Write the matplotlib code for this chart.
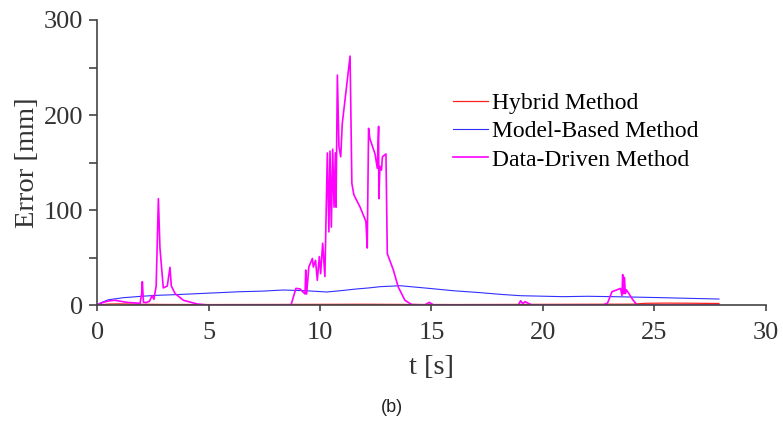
import numpy as np
import matplotlib
matplotlib.use('Agg')
import matplotlib.pyplot as plt
from matplotlib.ticker import MultipleLocator

# Erro ao longo do tempo para os três métodos
t_hibrido = [0.0, 0.5, 1.0, 2.0, 3.0, 5.0, 8.0, 10.0, 12.0, 14.0, 16.0, 18.0,
             20.0, 22.0, 24.0, 24.6, 25.5, 26.5, 27.9]
e_hibrido = [0.0, 1.0, 1.2, 0.8, 0.6, 0.5, 0.6, 0.7, 0.8, 0.6, 0.5, 0.6,
             0.7, 0.8, 0.9, 1.8, 2.0, 1.9, 1.6]

t_modelo = [0.0, 0.13, 0.5, 1.18, 2.0, 2.68, 3.5, 4.17, 5.3, 6.4, 7.4, 8.35,
            9.4, 10.3, 10.9, 11.6, 12.2, 12.7, 13.6, 14.9, 16.0, 17.2, 18.1,
            19.0, 20.9, 22.0, 23.1, 24.2, 25.4, 26.6, 27.9]
e_modelo = [0.0, 2.0, 5.5, 7.7, 9.2, 10.2, 10.9, 11.6, 12.8, 14.0, 14.6,
            15.8, 15.0, 13.7, 15.0, 16.8, 18.0, 19.3, 20.3, 17.5, 15.0, 13.0,
            11.2, 9.8, 8.8, 9.2, 8.8, 8.3, 7.7, 7.0, 6.3]

t_dados = [0.0, 0.3, 0.58, 0.8, 1.33, 1.93, 2.0, 2.03, 2.08, 2.2, 2.35, 2.47,
           2.55, 2.65, 2.75, 2.82, 2.97, 3.15, 3.27, 3.33, 3.5, 3.87, 4.5,
           5.0, 8.7, 8.92, 9.1, 9.33, 9.36, 9.4, 9.5, 9.66, 9.7, 9.8, 9.88,
           9.97, 10.03, 10.12, 10.22, 10.33, 10.4, 10.45, 10.51, 10.57, 10.63,
           10.69, 10.72, 10.78, 10.85, 10.93, 11.0, 11.35, 11.43, 11.52, 11.8,
           12.06, 12.12, 12.18, 12.24, 12.47, 12.57, 12.63, 12.64, 12.69,
           12.76, 12.8, 12.96, 13.02, 13.29, 13.51, 13.81, 14.11, 14.7, 14.9,
           15.1, 18.9, 19.0, 19.1, 19.2, 19.5, 22.7, 22.9, 23.1, 23.3, 23.48,
           23.55, 23.58, 23.62, 23.66, 23.7, 23.75, 24.05, 24.23, 27.9]
e_dados = [0.0, 3.0, 4.5, 5.0, 2.8, 1.8, 12.0, 24.6, 3.0, 2.5, 4.0, 10.0,
           6.0, 20.0, 112.0, 60.0, 18.0, 20.0, 39.7, 20.0, 12.0, 5.0, 1.0,
           0.0, 0.0, 17.5, 17.0, 11.6, 36.8, 11.6, 40.0, 49.0, 40.0, 47.0,
           26.0, 51.0, 33.0, 65.0, 30.0, 160.0, 77.0, 162.0, 82.0, 164.0,
           103.0, 160.0, 103.0, 242.0, 167.0, 156.0, 191.0, 262.0, 128.0,
           116.0, 103.0, 88.0, 60.0, 186.0, 175.0, 159.0, 144.0, 188.0, 112.0,
           146.0, 142.0, 156.0, 159.0, 54.0, 37.0, 19.0, 5.0, 0.5, 0.0, 2.8,
           0.0, 0.0, 4.5, 1.5, 3.5, 0.0, 0.0, 2.0, 14.0, 15.8, 17.5, 10.0,
           32.0, 12.0, 29.0, 12.0, 16.0, 5.0, 0.0, 0.0]

plt.rcParams['font.family'] = ['Liberation Serif', 'DejaVu Serif']

fig = plt.figure(figsize=(7.83, 4.21), dpi=100)
ax = fig.add_axes([0.124, 0.2755, 0.854, 0.677])

ax.plot(t_hibrido, e_hibrido, color='#ff2020', lw=0.9, label='Hybrid Method')
ax.plot(t_modelo, e_modelo, color='#3030ff', lw=0.8, label='Model-Based Method')
ax.plot(t_dados, e_dados, color='#ff00ff', lw=1.2, label='Data-Driven Method')

ax.set_xlim(0, 30)
ax.set_ylim(0, 300)
ax.xaxis.set_major_locator(MultipleLocator(5))
ax.yaxis.set_major_locator(MultipleLocator(100))
ax.yaxis.set_minor_locator(MultipleLocator(50))

cinza = '#444444'
for lado in ['top', 'right']:
    ax.spines[lado].set_visible(False)
for lado in ['left', 'bottom']:
    ax.spines[lado].set_color(cinza)
    ax.spines[lado].set_linewidth(1.2)
ax.tick_params(axis='both', which='both', direction='out', width=1.2,
               color=cinza, labelcolor='#333333', labelsize=19)
ax.tick_params(axis='x', length=4.5, pad=8)
ax.tick_params(axis='y', which='both', length=6, pad=4)

ax.set_xlabel('t [s]', fontsize=20.5, color='#333333', labelpad=8)
ax.set_ylabel('Error [mm]', fontsize=20.5, color='#333333', labelpad=3)

ax.legend(loc='upper left', bbox_to_anchor=(0.5665, 0.803),
          bbox_transform=fig.transFigure, frameon=False, fontsize=17,
          handlelength=1.48, handletextpad=0.17, labelspacing=0.29,
          borderaxespad=0)

# legenda da subfigura, centrada na largura total
fig.text(0.5006, 0.032, '(b)', ha='center', va='center',
         family='Liberation Sans', fontsize=13, color='#222222')

plt.savefig('out.png', dpi=100)
